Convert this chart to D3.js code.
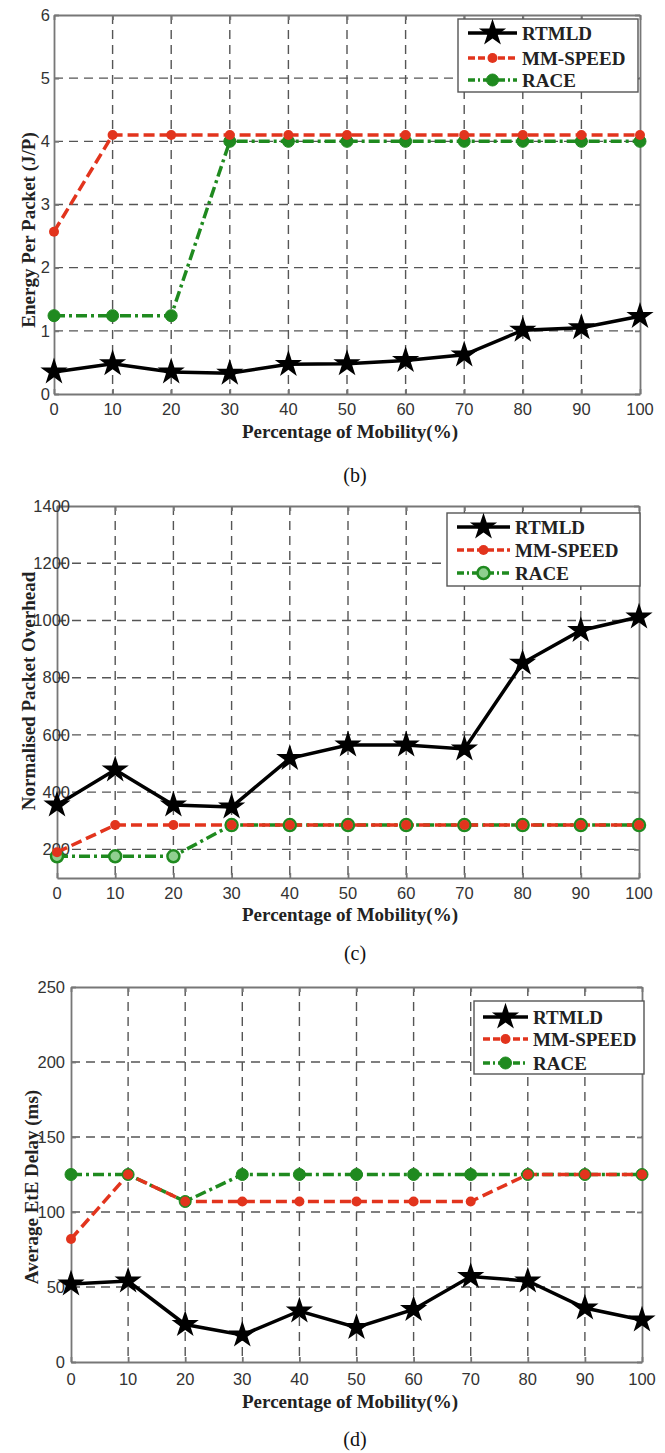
<!DOCTYPE html>
<html>
<head>
<meta charset="utf-8">
<script src="https://cdn.jsdelivr.net/npm/d3@7"></script>
<style>
  body { margin: 0; background: #fff; }
  svg { display: block; }
</style>
</head>
<body>
<script>
'use strict';

// x values shared by all three panels
const mobility = [0, 10, 20, 30, 40, 50, 60, 70, 80, 90, 100];
const seriesNames = ["RTMLD", "MM-SPEED", "RACE"];

// (b) energy per packet
const energyRTMLD   = [0.35, 0.48, 0.35, 0.33, 0.47, 0.48, 0.53, 0.62, 1.01, 1.05, 1.23];
const energyMMSPEED = [2.57, 4.1, 4.1, 4.1, 4.1, 4.1, 4.1, 4.1, 4.1, 4.1, 4.1];
const energyRACE    = [1.24, 1.24, 1.24, 4.0, 4.0, 4.0, 4.0, 4.0, 4.0, 4.0, 4.0];
const energyTicks   = [0, 1, 2, 3, 4, 5, 6];

// (c) normalised packet overhead
const overheadRTMLD   = [355, 478, 355, 348, 518, 565, 565, 551, 851, 965, 1012];
const overheadMMSPEED = [190, 285, 285, 285, 285, 285, 285, 285, 285, 285, 285];
const overheadRACE    = [176, 176, 176, 285, 285, 285, 285, 285, 285, 285, 285];
const overheadTicks   = [200, 400, 600, 800, 1000, 1200, 1400];

// (d) average end-to-end delay
const delayRTMLD   = [52, 54, 25, 18, 34, 23, 35, 57, 54, 36, 28];
const delayMMSPEED = [82, 125, 107, 107, 107, 107, 107, 107, 125, 125, 125];
const delayRACE    = [125, 125, 107, 125, 125, 125, 125, 125, 125, 125, 125];
const delayTicks   = [0, 50, 100, 150, 200, 250];

(function() {

  let svg = "";

  const red = "#e2341d";
  const green = "#1f8a1f";
  const tickFont = "'Liberation Sans', Arial, sans-serif";
  const labelFont = "'Liberation Serif', 'Times New Roman', serif";

  window.onload = function() {
    svg = d3.select('body')
      .append('svg')
      .attr('width', 665)
      .attr('height', 1453);

    drawPanel({
      series: [energyRTMLD, energyMMSPEED, energyRACE],
      yTicks: energyTicks, yDomain: [0, 6],
      x1: 54, x2: 640, yBottom: 394, yTop: 15,
      yTickEnd: -4, xTickY: 415,
      yLabel: "Energy Per Packet (J/P)", yLabelX: 28, yLabelY: 230,
      xLabelY: 438, caption: "(b)", captionY: 482,
      legend: { x: 458, y: 19, w: 180, h: 73, rows: [33, 58, 80], lineX: 468, textX: 522 },
      raceHollow: false
    });

    drawPanel({
      series: [overheadRTMLD, overheadMMSPEED, overheadRACE],
      yTicks: overheadTicks, yDomain: [100, 1400],
      x1: 57, x2: 639, yBottom: 878, yTop: 506,
      yTickEnd: 13, xTickY: 899,
      yLabel: "Normalised Packet Overhead", yLabelX: 28, yLabelY: 691,
      xLabelY: 921, caption: "(c)", captionY: 960,
      legend: { x: 447, y: 513, w: 193, h: 73, rows: [527, 550, 573], lineX: 457, textX: 515 },
      raceHollow: true
    });

    drawPanel({
      series: [delayRTMLD, delayMMSPEED, delayRACE],
      yTicks: delayTicks, yDomain: [0, 250],
      x1: 71, x2: 642, yBottom: 1362, yTop: 987,
      yTickEnd: -6, xTickY: 1385,
      yLabel: "Average EtE Delay (ms)", yLabelX: 31, yLabelY: 1187,
      xLabelY: 1408, caption: "(d)", captionY: 1446,
      legend: { x: 474, y: 1001, w: 170, h: 73, rows: [1017, 1039, 1063], lineX: 483, textX: 533 },
      raceHollow: false
    });
  }

  function drawPanel(p) {
    let xScale = d3.scaleLinear().domain([0, 100]).range([p.x1, p.x2]);
    let yScale = d3.scaleLinear().domain(p.yDomain).range([p.yBottom, p.yTop]);
    let g = svg.append('g');

    drawAxes(g, p, xScale, yScale);
    plotData(g, p, xScale, yScale);
    makeLegend(g, p);
    makeLabels(g, p);
  }

  // grid, box and tick labels
  function drawAxes(g, p, xScale, yScale) {
    // dashed grid
    g.selectAll('.vgrid')
      .data(mobility.slice(1, -1))
      .enter()
      .append('line')
      .attr('x1', (d) => xScale(d)).attr('x2', (d) => xScale(d))
      .attr('y1', p.yTop).attr('y2', p.yBottom)
      .attr('stroke', '#555')
      .attr('stroke-width', 1.4)
      .attr('stroke-dasharray', '9,6');

    g.selectAll('.hgrid')
      .data(p.yTicks.filter((d) => d > p.yDomain[0] && d < p.yDomain[1]))
      .enter()
      .append('line')
      .attr('x1', p.x1).attr('x2', p.x2)
      .attr('y1', (d) => yScale(d)).attr('y2', (d) => yScale(d))
      .attr('stroke', '#555')
      .attr('stroke-width', 1.4)
      .attr('stroke-dasharray', '9,6');

    // axes with inward ticks (matlab style)
    let xAxis = d3.axisBottom(xScale).tickValues(mobility).tickSizeInner(-5).tickSizeOuter(0).tickFormat("");
    g.append('g').attr('transform', 'translate(0,' + p.yBottom + ')').call(xAxis);
    let xAxisTop = d3.axisTop(xScale).tickValues(mobility).tickSizeInner(-5).tickSizeOuter(0).tickFormat("");
    g.append('g').attr('transform', 'translate(0,' + p.yTop + ')').call(xAxisTop);
    let yAxis = d3.axisLeft(yScale).tickValues(p.yTicks).tickSizeInner(-5).tickSizeOuter(0).tickFormat("");
    g.append('g').attr('transform', 'translate(' + p.x1 + ',0)').call(yAxis);
    let yAxisRight = d3.axisRight(yScale).tickValues(p.yTicks).tickSizeInner(-5).tickSizeOuter(0).tickFormat("");
    g.append('g').attr('transform', 'translate(' + p.x2 + ',0)').call(yAxisRight);

    g.selectAll('.domain, .tick line')
      .attr('stroke', '#777')
      .attr('stroke-width', 1.8);

    // tick labels
    g.selectAll('.xlab')
      .data(mobility)
      .enter()
      .append('text')
      .attr('x', (d) => xScale(d))
      .attr('y', p.xTickY)
      .attr('text-anchor', 'middle')
      .style('font-family', tickFont)
      .style('font-size', '16.5px')
      .style('fill', '#333')
      .text((d) => d);

    g.selectAll('.ylab')
      .data(p.yTicks)
      .enter()
      .append('text')
      .attr('x', p.x1 + p.yTickEnd)
      .attr('y', (d) => yScale(d))
      .attr('dy', '0.35em')
      .attr('text-anchor', 'end')
      .style('font-family', tickFont)
      .style('font-size', '16.5px')
      .style('fill', '#333')
      .text((d) => d);
  }

  // lines and markers for the three protocols
  function plotData(g, p, xScale, yScale) {
    let line = d3.line()
      .x((d, i) => xScale(mobility[i]))
      .y((d) => yScale(d));

    // RACE first, then MM-SPEED, then RTMLD on top
    g.append('path')
      .datum(p.series[2])
      .attr('fill', 'none')
      .attr('stroke', green)
      .attr('stroke-width', 3.5)
      .attr('stroke-dasharray', '11,4,3,4')
      .attr('d', line);

    g.append('path')
      .datum(p.series[1])
      .attr('fill', 'none')
      .attr('stroke', red)
      .attr('stroke-width', 3.5)
      .attr('stroke-dasharray', '11,5')
      .attr('d', line);

    g.selectAll('.race')
      .data(p.series[2])
      .enter()
      .append('circle')
      .attr('cx', (d, i) => xScale(mobility[i]))
      .attr('cy', (d) => yScale(d))
      .attr('r', 6)
      .attr('fill', p.raceHollow ? '#8fcf8f' : green)
      .attr('stroke', green)
      .attr('stroke-width', p.raceHollow ? 2.5 : 1);

    g.selectAll('.mm')
      .data(p.series[1])
      .enter()
      .append('circle')
      .attr('cx', (d, i) => xScale(mobility[i]))
      .attr('cy', (d) => yScale(d))
      .attr('r', 5)
      .attr('fill', red);

    g.append('path')
      .datum(p.series[0])
      .attr('fill', 'none')
      .attr('stroke', '#000')
      .attr('stroke-width', 3.5)
      .attr('d', line);

    let star = d3.symbol().type(d3.symbolStar).size(230);
    g.selectAll('.star')
      .data(p.series[0])
      .enter()
      .append('path')
      .attr('transform', (d, i) => 'translate(' + xScale(mobility[i]) + ',' + yScale(d) + ')')
      .attr('d', star)
      .attr('fill', '#000');
  }

  function makeLegend(g, p) {
    let L = p.legend;
    g.append('rect')
      .attr('x', L.x).attr('y', L.y)
      .attr('width', L.w).attr('height', L.h)
      .attr('fill', '#fff')
      .attr('stroke', '#555')
      .attr('stroke-width', 1.4);

    let styles = [
      { color: '#000', dash: null, marker: 'star' },
      { color: red, dash: '7,3', marker: 'dot' },
      { color: green, dash: '7,3,2,3', marker: 'ring' }
    ];
    let lineEnd = L.textX - 5;
    let mid = (L.lineX + lineEnd) / 2;

    seriesNames.forEach(function(name, i) {
      let y = L.rows[i];
      g.append('line')
        .attr('x1', L.lineX).attr('x2', lineEnd)
        .attr('y1', y).attr('y2', y)
        .attr('stroke', styles[i].color)
        .attr('stroke-width', 3.5)
        .attr('stroke-dasharray', styles[i].dash);

      if (styles[i].marker == 'star') {
        g.append('path')
          .attr('transform', 'translate(' + mid + ',' + y + ')')
          .attr('d', d3.symbol().type(d3.symbolStar).size(230))
          .attr('fill', '#000');
      } else if (styles[i].marker == 'dot') {
        g.append('circle').attr('cx', mid).attr('cy', y).attr('r', 5).attr('fill', red);
      } else {
        g.append('circle').attr('cx', mid).attr('cy', y).attr('r', 6)
          .attr('fill', p.raceHollow ? '#8fcf8f' : green)
          .attr('stroke', green)
          .attr('stroke-width', p.raceHollow ? 2.5 : 1);
      }

      g.append('text')
        .attr('x', L.textX)
        .attr('y', y)
        .attr('dy', '0.35em')
        .style('font-family', labelFont)
        .style('font-weight', 'bold')
        .style('font-size', '19px')
        .style('fill', '#222')
        .text(name);
    });
  }

  // axis titles and panel caption
  function makeLabels(g, p) {
    g.append('text')
      .attr('x', 350)
      .attr('y', p.xLabelY)
      .attr('text-anchor', 'middle')
      .style('font-family', labelFont)
      .style('font-weight', 'bold')
      .style('font-size', '19px')
      .style('fill', '#222')
      .text('Percentage of Mobility(%)');

    g.append('text')
      .attr('transform', 'translate(' + p.yLabelX + ',' + p.yLabelY + ')rotate(-90)')
      .attr('text-anchor', 'middle')
      .attr('dy', '0.35em')
      .style('font-family', labelFont)
      .style('font-weight', 'bold')
      .style('font-size', '19px')
      .style('fill', '#222')
      .text(p.yLabel);

    g.append('text')
      .attr('x', 355)
      .attr('y', p.captionY)
      .attr('text-anchor', 'middle')
      .style('font-family', labelFont)
      .style('font-size', '20px')
      .style('fill', '#111')
      .text(p.caption);
  }

})();
</script>
</body>
</html>
